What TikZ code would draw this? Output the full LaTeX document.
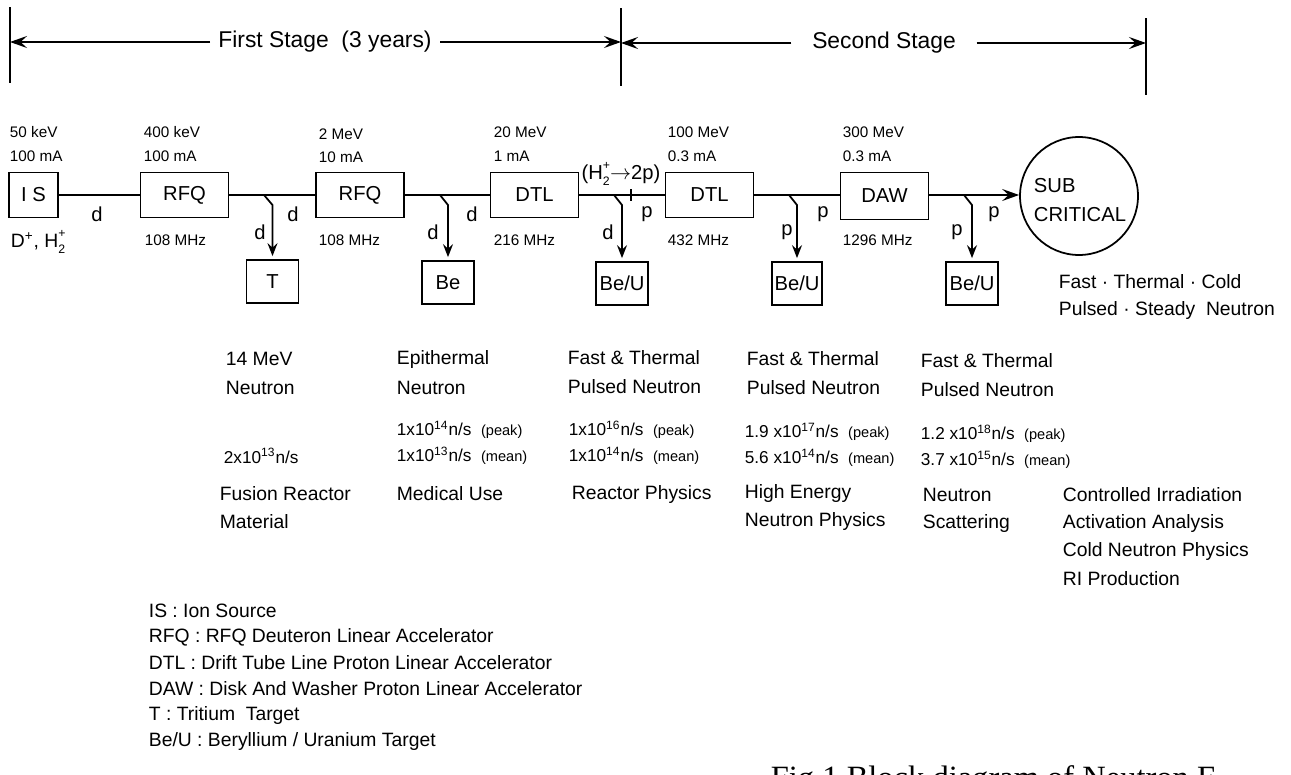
\documentclass[tikz,border=0pt]{standalone}
\usepackage{fontspec}
\setmainfont{Liberation Sans}
\newfontfamily\capfont{Liberation Serif}
\usetikzlibrary{arrows.meta}
\newcommand\subsupx[2]{\makebox[0pt][l]{\raisebox{-0.6ex}{\scriptsize #1}}\raisebox{0.95ex}{\scriptsize #2}}
\newcommand\pk[1]{{\fontsize{8.3}{10}\selectfont #1}}
\begin{document}
\begin{tikzpicture}[x=0.02cm, y=-0.02cm, line width=1pt,
  every node/.style={inner sep=0pt},
  lbl/.style={font=\fontsize{11}{13}\selectfont, anchor=west},
  sml/.style={font=\fontsize{8.7}{10}\selectfont, anchor=west},
  flx/.style={font=\fontsize{9.8}{11}\selectfont, anchor=west},
  stg/.style={font=\fontsize{13}{15}\selectfont},
  acc/.style={draw, minimum width=1.76cm, minimum height=0.9cm, font=\fontsize{11.5}{13}\selectfont},
  tgt/.style={draw, minimum width=1.04cm, minimum height=0.86cm, font=\fontsize{11.5}{13}\selectfont},
  bl/.style={font=\fontsize{11.5}{13}\selectfont},
  tip/.style={-{Stealth[length=3.4mm,width=2.4mm,inset=1.3mm]}},
  btip/.style={-{Stealth[length=2.6mm,width=2mm,inset=0.9mm]}, shorten >=0.06cm}]
\path[use as bounding box] (0,0) rectangle (1291,774);
\clip (0,0) rectangle (1291,774);

% ---- stage bar ----
\coordinate (v1t) at (10,7);   \coordinate (v1b) at (10,83);
\coordinate (v2t) at (621,8);  \coordinate (v2b) at (621,86);
\coordinate (v3t) at (1146,18); \coordinate (v3b) at (1146,95);
\draw (v1t) -- (v1b);
\draw (v2t) -- (v2b);
\draw (v3t) -- (v3b);
\coordinate (a1) at (10,42);
\coordinate (a2) at (621,42);
\coordinate (a3) at (621,43);
\coordinate (a4) at (1146,43);
\node[stg, inner xsep=0.15cm] (fs) at (325,42) {First Stage\ \ (3 years)};
\node[stg, inner xsep=0.4cm] (ss) at (884,43) {Second Stage};
\draw[tip] (fs) -- (a1);
\draw[tip] (fs) -- (a2);
\draw[tip] (ss) -- (a3);
\draw[tip] (ss) -- (a4);

% ---- accelerator chain ----
\node[acc, minimum width=0.98cm] (IS) at (33.5,195) {I\ S};
\node[acc] (R1) at (184.5,195) {RFQ};
\node[acc] (R2) at (360,195) {RFQ};
\node[acc] (D1) at (534.5,195) {DTL};
\node[acc] (D2) at (709.5,195) {DTL};
\node[acc, minimum height=0.94cm] (DAW) at (884.5,196) {DAW};
\node[draw, circle, minimum size=2.36cm] (SC) at (1079,196) {};
\node[align=left, font=\fontsize{11.5}{17}\selectfont] (sct) at (1080,200) {SUB\\CRITICAL};

\draw (IS) -- (R1);
\draw (R1) -- (R2);
\draw (R2) -- (D1);
\draw (D1) -- (D2);
\draw (D2) -- (DAW.west |- D2.east);
\draw[tip] (DAW.east |- D2.east) -- (SC.west |- D2.east);
\draw (631,189) -- (631,201);

% targets
\node[tgt] (T) at (272.5,281.5) {T};
\node[tgt] (Be) at (448,282.5) {Be};
\node[tgt] (BU1) at (622,283.5) {Be/U};
\node[tgt, minimum width=1.0cm] (BU2) at (797,283.5) {Be/U};
\node[tgt] (BU3) at (972,283.5) {Be/U};

\coordinate (b1) at (264,195); \coordinate (k1) at (272.5,205);
\coordinate (b2) at (440,195); \coordinate (k2) at (448,205);
\coordinate (b3) at (614,195); \coordinate (k3) at (622,205);
\coordinate (b4) at (789,195); \coordinate (k4) at (797,205);
\coordinate (b5) at (964,195); \coordinate (k5) at (972,205);
\draw[btip] (b1) -- (k1) -- (T);
\draw[btip] (b2) -- (k2) -- (Be);
\draw[btip] (b3) -- (k3) -- (BU1);
\draw[btip] (b4) -- (k4) -- (BU2);
\draw[btip] (b5) -- (k5) -- (BU3);

% beam labels
\node[bl] (l1) at (97,214) {d};
\node[bl] (l2) at (260,232) {d};
\node[bl] (l3) at (293,214) {d};
\node[bl] (l4) at (433,232) {d};
\node[bl] (l5) at (472,214) {d};
\node[bl] (l6) at (608,232) {d};
\node[bl] (l7) at (647,214) {p};
\node[bl] (l8) at (787,232) {p};
\node[bl] (l9) at (823,214) {p};
\node[bl] (l10) at (957,232) {p};
\node[bl] (l11) at (994,214) {p};
\node[bl] (h2) at (621,174) {(H\subsupx{2}{+}$\rightarrow$2p)};

% energies / currents / frequencies
\node[sml] (e1) at (9,132) {50 keV};
\node[sml] (c1) at (9,156) {100 mA};
\node[lbl, font=\fontsize{11}{13}\selectfont] (ion) at (10,242) {D\textsuperscript{+}, H\subsupx{2}{+}};
\node[sml] (e2) at (143,132) {400 keV};
\node[sml] (c2) at (143,156) {100 mA};
\node[sml] (f2) at (144,240) {108 MHz};
\node[sml] (e3) at (318,134) {2 MeV};
\node[sml] (c3) at (318,157) {10 mA};
\node[sml] (f3) at (318,240) {108 MHz};
\node[sml] (e4) at (493,132) {20 MeV};
\node[sml] (c4) at (493,156) {1 mA};
\node[sml] (f4) at (493,240) {216 MHz};
\node[sml] (e5) at (667,132) {100 MeV};
\node[sml] (c5) at (667,156) {0.3 mA};
\node[sml] (f5) at (667,240) {432 MHz};
\node[sml] (e6) at (842,132) {300 MeV};
\node[sml] (c6) at (842,156) {0.3 mA};
\node[sml] (f6) at (842,240) {1296 MHz};

\node[lbl] (sc1) at (1058,282) {Fast · Thermal · Cold};
\node[lbl] (sc2) at (1058,310) {Pulsed · Steady\ \ Neutron};

% ---- columns ----
\node[lbl] (c1a) at (225,359) {14 MeV};
\node[lbl] (c1b) at (225,388) {Neutron};
\node[flx] (c1c) at (223,456) {2x10\textsuperscript{13}n/s};
\node[lbl] (c1d) at (219,494) {Fusion Reactor};
\node[lbl] (c1e) at (219,522) {Material};

\node[lbl] (c2a) at (396,359) {Epithermal};
\node[lbl] (c2b) at (396,388) {Neutron};
\node[flx] (c2c) at (396,430) {1x10\textsuperscript{14}n/s\ \ \pk{(peak)}};
\node[flx] (c2d) at (396,456) {1x10\textsuperscript{13}n/s\ \ \pk{(mean)}};
\node[lbl] (c2e) at (396,494) {Medical Use};

\node[lbl] (c3a) at (567,358) {Fast \& Thermal};
\node[lbl] (c3b) at (567,387) {Pulsed Neutron};
\node[flx] (c3c) at (568,430) {1x10\textsuperscript{16}n/s\ \ \pk{(peak)}};
\node[flx] (c3d) at (568,456) {1x10\textsuperscript{14}n/s\ \ \pk{(mean)}};
\node[lbl] (c3e) at (571,494) {Reactor Physics};

\node[lbl] (c4a) at (746,359) {Fast \& Thermal};
\node[lbl] (c4b) at (746,388) {Pulsed Neutron};
\node[flx] (c4c) at (744,432) {1.9 x10\textsuperscript{17}n/s\ \ \pk{(peak)}};
\node[flx] (c4d) at (744,458) {5.6 x10\textsuperscript{14}n/s\ \ \pk{(mean)}};
\node[lbl] (c4e) at (744,493) {High Energy};
\node[lbl] (c4f) at (744,521) {Neutron Physics};

\node[lbl] (c5a) at (920,361) {Fast \& Thermal};
\node[lbl] (c5b) at (920,390) {Pulsed Neutron};
\node[flx] (c5c) at (920,434) {1.2 x10\textsuperscript{18}n/s\ \ \pk{(peak)}};
\node[flx] (c5d) at (920,460) {3.7 x10\textsuperscript{15}n/s\ \ \pk{(mean)}};
\node[lbl] (c5e) at (922,495) {Neutron};
\node[lbl] (c5f) at (922,523) {Scattering};

\node[lbl] (c6a) at (1062,495) {Controlled Irradiation};
\node[lbl] (c6b) at (1062,523) {Activation Analysis};
\node[lbl] (c6c) at (1062,551) {Cold Neutron Physics};
\node[lbl] (c6d) at (1062,579) {RI Production};

% ---- legend ----
\node[lbl] (g1) at (148,611) {IS : Ion Source};
\node[lbl] (g2) at (148,637) {RFQ : RFQ Deuteron Linear Accelerator};
\node[lbl] (g3) at (148,663) {DTL : Drift Tube Line Proton Linear Accelerator};
\node[lbl] (g4) at (148,689) {DAW : Disk And Washer Proton Linear Accelerator};
\node[lbl] (g5) at (148,715) {T : Tritium\ \ Target};
\node[lbl] (g6) at (148,741) {Be/U : Beryllium / Uranium Target};

\node[anchor=base west, font=\capfont\fontsize{18.5}{20}\selectfont] (cap) at (770,788) {Fig.1 Block diagram of Neutron F};
\end{tikzpicture}
\end{document}
